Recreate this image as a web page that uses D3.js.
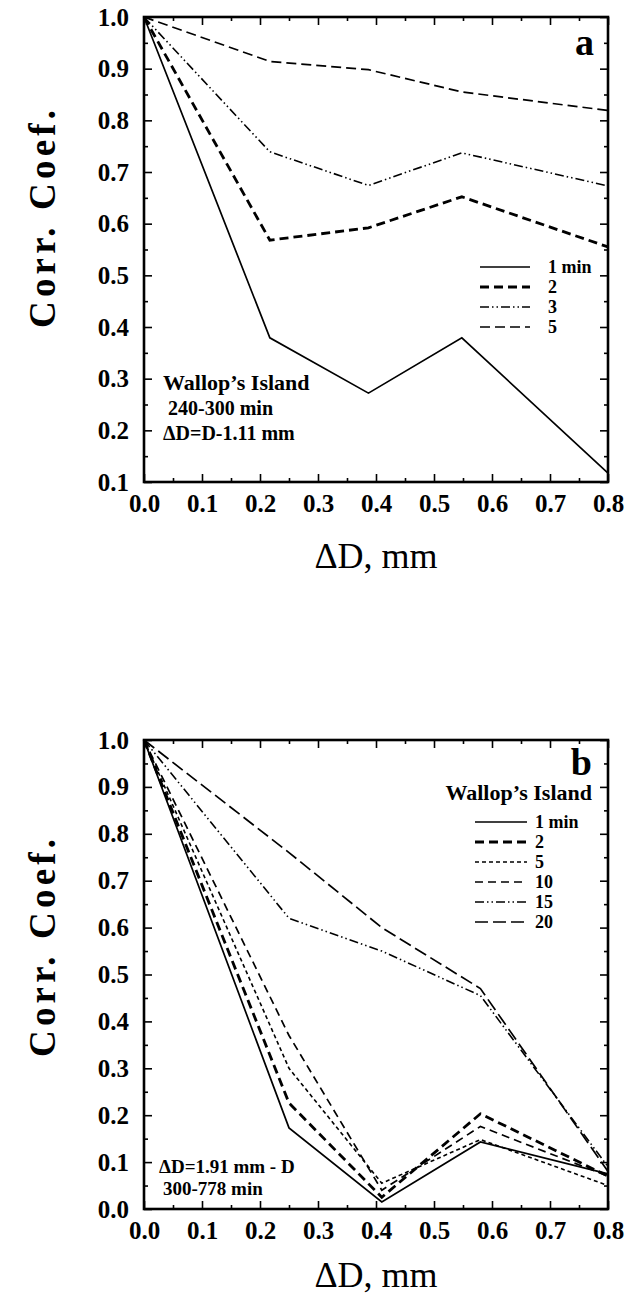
<!DOCTYPE html>
<html>
<head>
<meta charset="utf-8">
<script src="https://cdn.jsdelivr.net/npm/d3@7/dist/d3.min.js"></script>
<style>
  body { margin: 0; background: #fff; }
  svg { display: block; }
  svg text { font-family: "Liberation Serif", "Times New Roman", serif; }
</style>
</head>
<body>
<svg id="chart" width="625" height="1298"></svg>
<script>
// panel a: Wallop's Island 240-300 min
const dA = [0, 0.217, 0.387, 0.548, 0.8];
const a1 = [1.0, 0.379, 0.272, 0.379, 0.117];
const a2 = [1.0, 0.568, 0.592, 0.652, 0.555];
const a3 = [1.0, 0.739, 0.674, 0.737, 0.673];
const a5 = [1.0, 0.914, 0.898, 0.855, 0.819];
const labelsA = ["1 min", "2", "3", "5"];

// panel b: Wallop's Island 300-778 min
const dB = [0, 0.25, 0.41, 0.58, 0.8];
const b1 = [1.0, 0.173, 0.015, 0.143, 0.075];
const b2 = [1.0, 0.226, 0.025, 0.203, 0.07];
const b5 = [1.0, 0.30, 0.055, 0.148, 0.05];
const b10 = [1.0, 0.37, 0.04, 0.176, 0.07];
const b15 = [1.0, 0.62, 0.55, 0.455, 0.09];
const b20 = [1.0, 0.76, 0.60, 0.47, 0.08];
const labelsB = ["1 min", "2", "5", "10", "15", "20"];

// line styles
const solid = { w: 1.7, dash: null };
const heavy = { w: 2.8, dash: "9,5" };
const dashDotDot = { w: 1.6, dash: "9,3,1.5,3,1.5,3" };
const dashed = { w: 1.7, dash: "10,5" };
const shortDash = { w: 1.6, dash: "4,3" };
const medDash = { w: 1.7, dash: "8,5" };
const longDash = { w: 1.7, dash: "13,5" };

const svg = d3.select("#chart");
const left = 144, right = 608;
const serif = "'Liberation Serif', 'Times New Roman', serif";

function panel(cfg) {
  const g = svg.append("g");
  const x = d3.scaleLinear().domain([0, 0.8]).range([left, right]);
  const y = d3.scaleLinear().domain(cfg.yDomain).range([cfg.bottom, cfg.top]);

  const xMajor = d3.range(0, 0.81, 0.1);
  const xMinor = d3.range(0.05, 0.8, 0.1);
  const yMajor = d3.range(Math.round(cfg.yDomain[0] * 10), 11).map(d => d / 10);
  const yMinor = d3.range(Math.round(cfg.yDomain[0] * 20) + 1, 20, 2).map(d => d / 20);

  function ax(gen, scale, vals, size, pos, labels) {
    const a = gen(scale).tickValues(vals).tickSize(-size).tickPadding(10);
    if (!labels) a.tickFormat("");
    else a.tickFormat(d3.format(".1f"));
    const sel = g.append("g").attr("transform", pos).call(a)
      .attr("font-family", serif).attr("font-size", 25);
    sel.select(".domain").remove();
    sel.selectAll("line").attr("stroke", "#000").attr("stroke-width", 1.6);
    sel.selectAll("text").attr("fill", "#000").attr("font-weight", "bold");
    return sel;
  }
  const xb = ax(d3.axisBottom, x, xMajor, 8, `translate(0,${cfg.bottom})`, true);
  xb.selectAll("text").attr("dy", null).attr("y", 30);
  ax(d3.axisBottom, x, xMinor, 4, `translate(0,${cfg.bottom})`, false);
  ax(d3.axisTop, x, xMajor, 8, `translate(0,${cfg.top})`, false);
  ax(d3.axisTop, x, xMinor, 4, `translate(0,${cfg.top})`, false);
  const yl = ax(d3.axisLeft, y, yMajor, 8, `translate(${left},0)`, true);
  yl.selectAll("text").attr("x", -15);
  ax(d3.axisLeft, y, yMinor, 4, `translate(${left},0)`, false);
  ax(d3.axisRight, y, yMajor, 8, `translate(${right},0)`, false);
  ax(d3.axisRight, y, yMinor, 4, `translate(${right},0)`, false);

  // frame
  g.append("rect")
    .attr("x", left).attr("y", cfg.top)
    .attr("width", right - left).attr("height", cfg.bottom - cfg.top)
    .attr("fill", "none").attr("stroke", "#000").attr("stroke-width", 2.6);

  // series
  const line = d3.line().x((d, i) => x(cfg.xs[i])).y(d => y(d));
  cfg.series.forEach(s => {
    g.append("path")
      .attr("d", line(s.vals))
      .attr("fill", "none")
      .attr("stroke", "#000")
      .attr("stroke-width", s.style.w)
      .attr("stroke-dasharray", s.style.dash)
      .attr("stroke-linejoin", "miter");
  });

  // legend
  cfg.series.forEach((s, i) => {
    const ly = cfg.legY + i * 20;
    g.append("line")
      .attr("x1", cfg.legX1).attr("x2", cfg.legX2)
      .attr("y1", ly).attr("y2", ly)
      .attr("stroke", "#000")
      .attr("stroke-width", s.style.w)
      .attr("stroke-dasharray", s.style.dash);
    g.append("text")
      .attr("x", cfg.legText).attr("y", ly + 6)
      .attr("font-size", 18).attr("font-weight", "bold")
      .text(s.label);
  });

  // axis titles
  g.append("text")
    .attr("transform", `translate(55,${cfg.yTitle}) rotate(-90)`)
    .attr("text-anchor", "middle")
    .attr("font-size", 37).attr("font-weight", "bold")
    .attr("textLength", 218).attr("lengthAdjust", "spacing")
    .text("Corr. Coef.");
  g.append("text")
    .attr("x", (left + right) / 2).attr("y", cfg.xTitle)
    .attr("text-anchor", "middle")
    .attr("font-size", 36)
    .text("\u0394D, mm");

  return { g, x, y };
}

const pa = panel({
  top: 17, bottom: 482, yDomain: [0.1, 1.0], xs: dA,
  series: [
    { vals: a1, style: solid, label: labelsA[0] },
    { vals: a2, style: heavy, label: labelsA[1] },
    { vals: a3, style: dashDotDot, label: labelsA[2] },
    { vals: a5, style: dashed, label: labelsA[3] }
  ],
  legY: 267, legX1: 480, legX2: 530, legText: 548,
  yTitle: 219, xTitle: 568
});
pa.g.append("text").attr("x", 594).attr("y", 55).attr("text-anchor", "end")
  .attr("font-size", 38).attr("font-weight", "bold").text("a");
pa.g.append("text").attr("x", 163).attr("y", 390)
  .attr("font-size", 22).attr("font-weight", "bold").text("Wallop\u2019s Island");
pa.g.append("text").attr("x", 168).attr("y", 415)
  .attr("font-size", 20).attr("font-weight", "bold").text("240-300 min");
pa.g.append("text").attr("x", 163).attr("y", 440)
  .attr("font-size", 20).attr("font-weight", "bold").text("\u0394D=D-1.11 mm");

const pb = panel({
  top: 740, bottom: 1209, yDomain: [0, 1.0], xs: dB,
  series: [
    { vals: b1, style: solid, label: labelsB[0] },
    { vals: b2, style: heavy, label: labelsB[1] },
    { vals: b5, style: shortDash, label: labelsB[2] },
    { vals: b10, style: medDash, label: labelsB[3] },
    { vals: b15, style: dashDotDot, label: labelsB[4] },
    { vals: b20, style: longDash, label: labelsB[5] }
  ],
  legY: 822, legX1: 475, legX2: 527, legText: 535,
  yTitle: 948, xTitle: 1287
});
pb.g.append("text").attr("x", 592).attr("y", 775).attr("text-anchor", "end")
  .attr("font-size", 38).attr("font-weight", "bold").text("b");
pb.g.append("text").attr("x", 592).attr("y", 800).attr("text-anchor", "end")
  .attr("font-size", 22).attr("font-weight", "bold").text("Wallop\u2019s Island");
pb.g.append("text").attr("x", 159).attr("y", 1173)
  .attr("font-size", 19).attr("font-weight", "bold").text("\u0394D=1.91 mm - D");
pb.g.append("text").attr("x", 163).attr("y", 1195)
  .attr("font-size", 19).attr("font-weight", "bold").text("300-778 min");
</script>
</body>
</html>
